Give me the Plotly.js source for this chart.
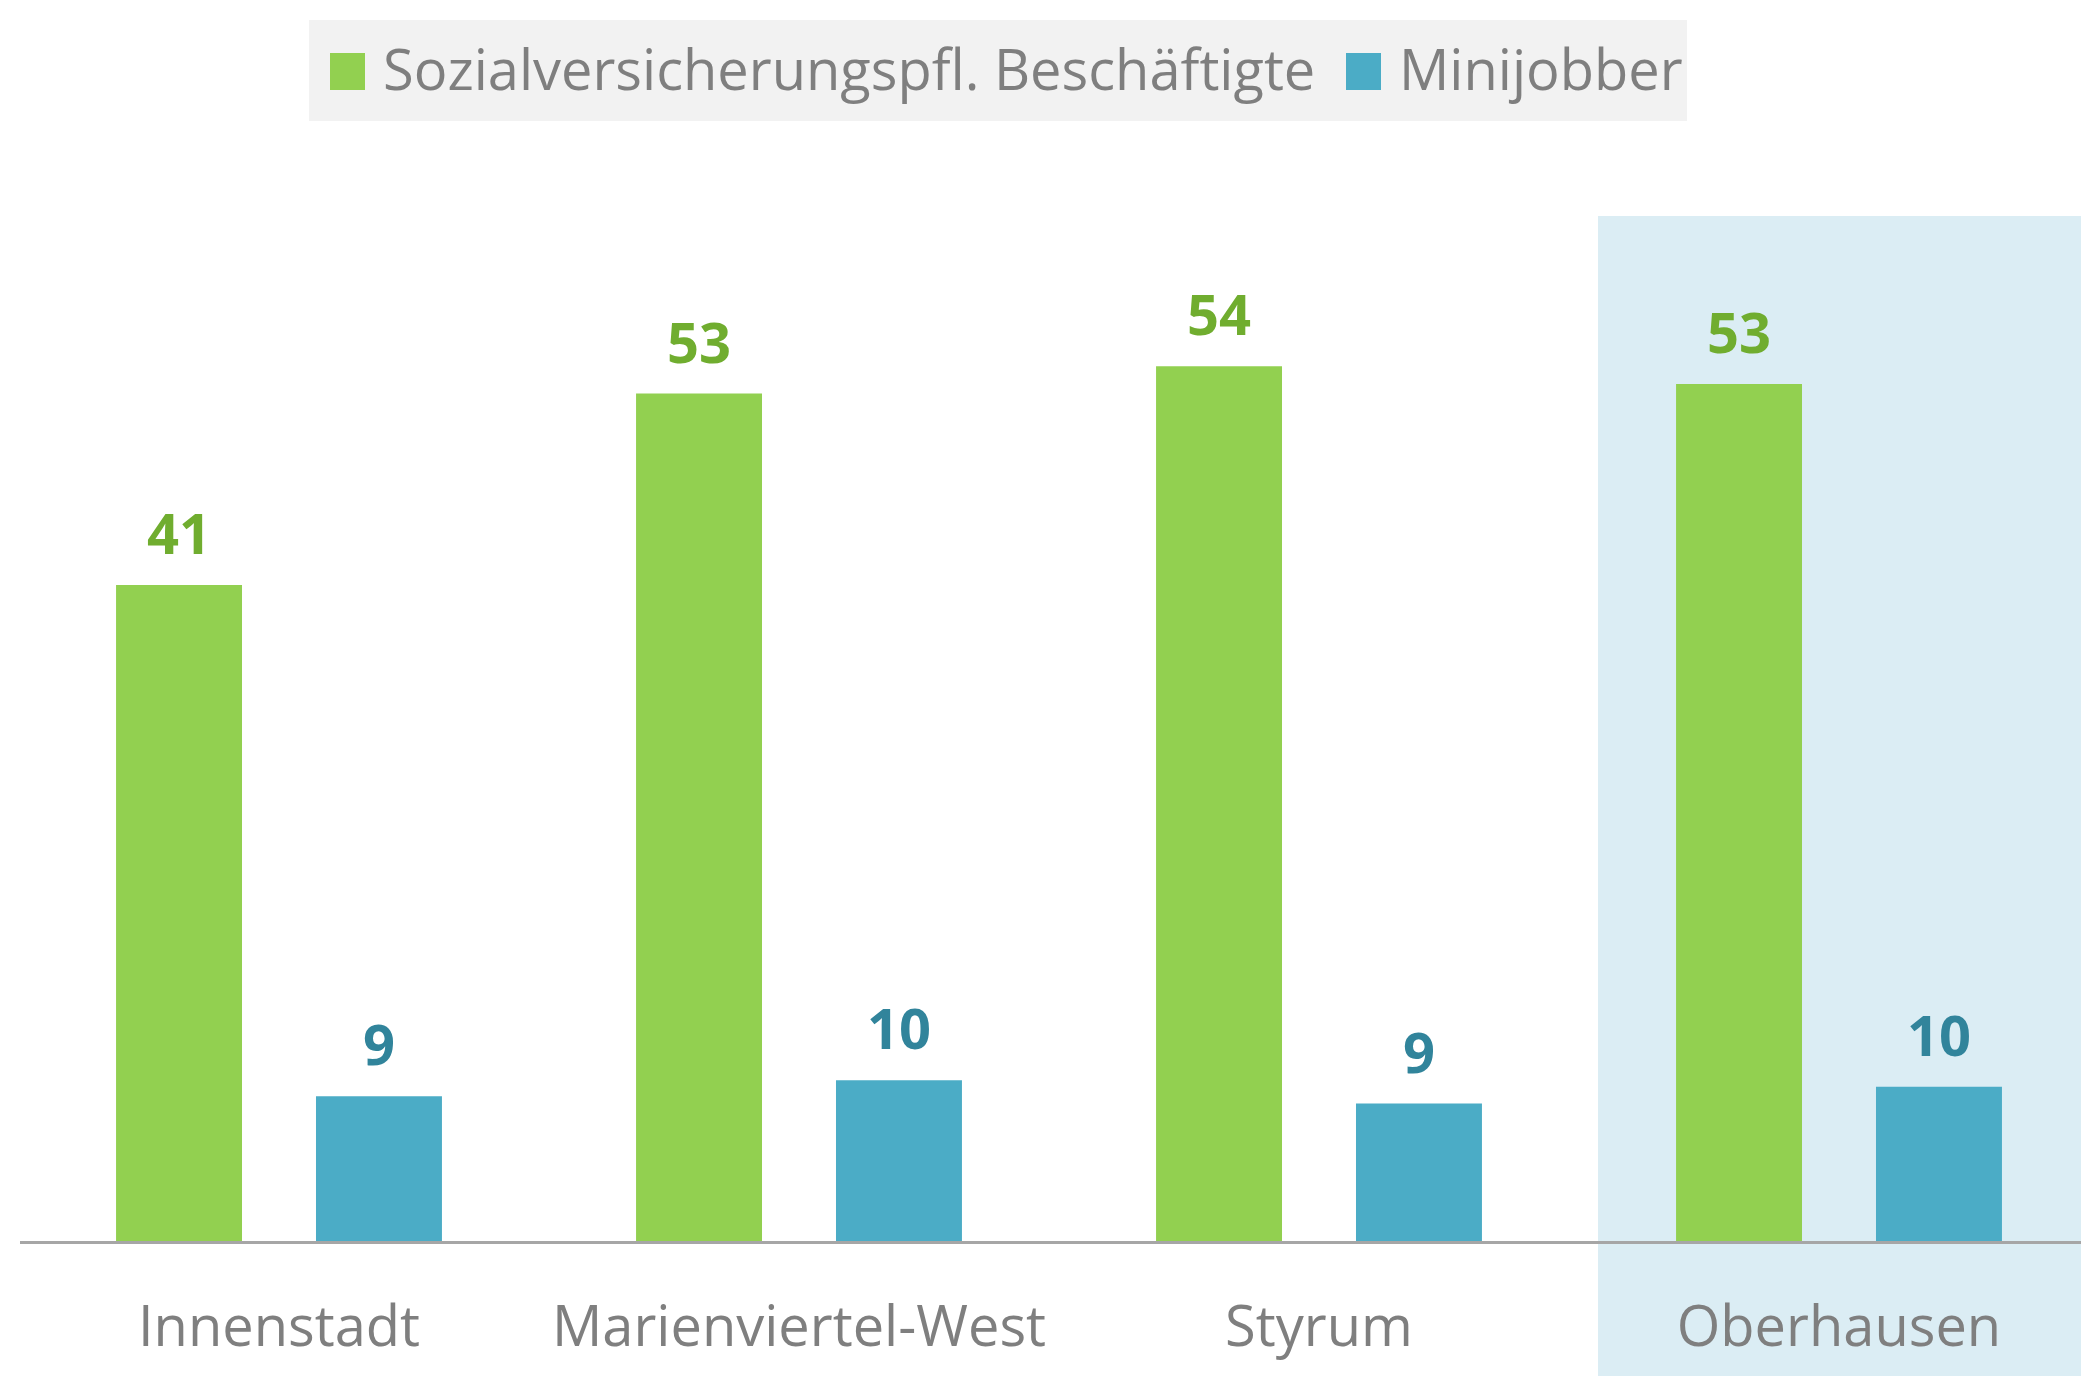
<!DOCTYPE html>
<html>
<head>
<meta charset="utf-8">
<script src="https://cdn.plot.ly/plotly-3.0.1.min.js"></script>
<style>
  html, body { margin: 0; padding: 0; background: #ffffff; }
  #chart { width: 2081px; height: 1376px; }
</style>
</head>
<body>
<div id="chart"></div>
<script>
// ---- data ----
const categories = ["Innenstadt", "Marienviertel-West", "Styrum", "Oberhausen"];
const seriesNames = ["Sozialversicherungspfl. Beschäftigte", "Minijobber"];
const svBeschaeftigte = [40.8, 52.7, 54.4, 53.3];
const minijobber = [9.0, 10.0, 8.55, 9.6];
const highlightCategory = "Oberhausen";

// ---- styles ----
const greenBar = "#92D050";
const blueBar = "#4BACC6";
const greenLabel = "#70AD2F";
const blueLabel = "#31849B";
const greyText = "#7F7F7F";
const fontFam = "'Open Sans', 'Noto Sans', sans-serif";

const W = 2081, H = 1376;
const mL = 20, mR = 0, mT = 0, mB = 135;
const plotW = W - mL - mR, plotH = H - mT - mB;
const px2paperX = px => (px - mL) / plotW;
const px2paperY = py => (H - mB - py) / plotH;

const traces = [
  { type: "bar", name: seriesNames[0], x: categories, y: svBeschaeftigte,
    marker: { color: greenBar }, hoverinfo: "x+y", showlegend: false },
  { type: "bar", name: seriesNames[1], x: categories, y: minijobber,
    marker: { color: blueBar }, hoverinfo: "x+y", showlegend: false }
];

const annotations = [];
const shift = 100;
categories.forEach((c, i) => {
  annotations.push({ x: c, y: svBeschaeftigte[i], xref: "x", yref: "y",
    text: String(Math.round(svBeschaeftigte[i])), showarrow: false,
    xshift: -shift, yshift: 13, yanchor: "bottom", xanchor: "center",
    font: { family: fontFam, size: 56, color: greenLabel, weight: 700 } });
  annotations.push({ x: c, y: minijobber[i], xref: "x", yref: "y",
    text: String(Math.round(minijobber[i])), showarrow: false,
    xshift: shift, yshift: 13, yanchor: "bottom", xanchor: "center",
    font: { family: fontFam, size: 56, color: blueLabel, weight: 700 } });
});

// manual legend
const legendItems = [
  { name: seriesNames[0], color: greenBar, sq: [330, 365], tx: 381 },
  { name: seriesNames[1], color: blueBar, sq: [1346, 1381], tx: 1397 }
];
const shapes = [
  // highlight band for Oberhausen
  { type: "rect", xref: "paper", yref: "paper", layer: "below",
    x0: px2paperX(1598), x1: 1, y0: px2paperY(H), y1: px2paperY(216),
    fillcolor: "#DBEDF4", line: { width: 0 } },
  // legend background
  { type: "rect", xref: "paper", yref: "paper", layer: "above",
    x0: px2paperX(309), x1: px2paperX(1687), y0: px2paperY(121), y1: px2paperY(20),
    fillcolor: "#F2F2F2", line: { width: 0 } }
];
legendItems.forEach(it => {
  shapes.push({ type: "rect", xref: "paper", yref: "paper", layer: "above",
    x0: px2paperX(it.sq[0]), x1: px2paperX(it.sq[1]),
    y0: px2paperY(90), y1: px2paperY(53),
    fillcolor: it.color, line: { width: 0 } });
  annotations.push({ xref: "paper", yref: "paper", x: px2paperX(it.tx), y: px2paperY(68),
    xanchor: "left", yanchor: "middle", showarrow: false, text: it.name,
    font: { family: fontFam, size: 56, color: greyText } });
});

const catCenter0 = 279, catStep = 520;
const layout = {
  width: W, height: H,
  margin: { l: mL, r: mR, t: mT, b: mB, pad: 0 },
  paper_bgcolor: "#ffffff",
  plot_bgcolor: "rgba(0,0,0,0)",
  barmode: "group",
  bargap: 0.231,
  bargroupgap: 0.37,
  showlegend: false,
  xaxis: {
    type: "category",
    range: [(mL - catCenter0) / catStep, (W - mR - catCenter0) / catStep],
    showline: true, linecolor: "#A6A6A6", linewidth: 3,
    ticks: "", showgrid: false, zeroline: false,
    ticklabelstandoff: 35,
    tickfont: { family: fontFam, size: 56, color: greyText },
    fixedrange: true
  },
  yaxis: {
    range: [0, plotH / 16.08],
    visible: false, showgrid: false, zeroline: false, fixedrange: true
  },
  shapes: shapes,
  annotations: annotations,
  font: { family: fontFam }
};

Plotly.newPlot("chart", traces, layout, { displayModeBar: false, staticPlot: true });
</script>
</body>
</html>
